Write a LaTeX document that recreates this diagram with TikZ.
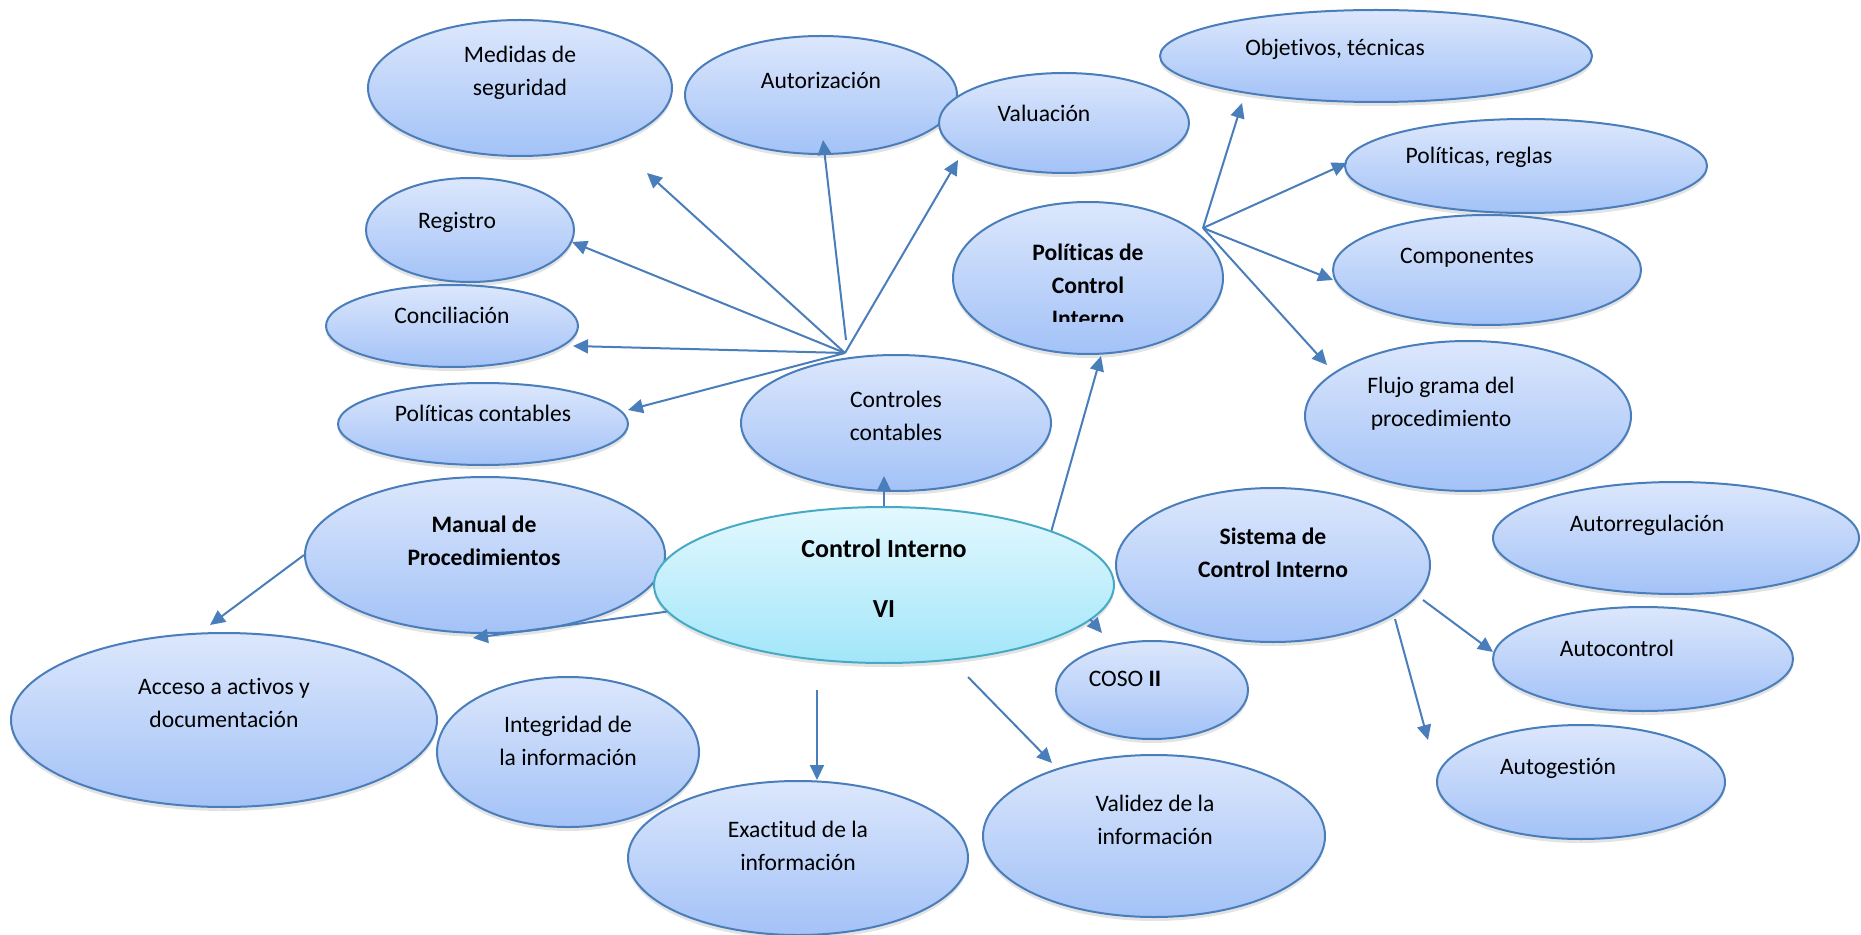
\documentclass[tikz,border=0pt]{standalone}
\usepackage{fontspec}
\setmainfont{Carlito}[Ligatures=NoCommon]
\usetikzlibrary{shapes.geometric, arrows.meta, shadows}
\definecolor{bubtop}{HTML}{DCE7FC}
\definecolor{bubbot}{HTML}{A3C2F7}
\definecolor{bubline}{HTML}{4A7EBB}
\definecolor{coretop}{HTML}{E3F8FE}
\definecolor{corebot}{HTML}{A2E6F9}
\definecolor{coreline}{HTML}{46AAC5}
\definecolor{arrowblue}{HTML}{4A7EBB}
\tikzstyle{bubble} = [ellipse, draw=bubline, line width=1pt, top color=bubtop, bottom color=bubbot, inner sep=0pt, drop shadow={opacity=0.22, shadow xshift=0pt, shadow yshift=-2pt}]
\tikzstyle{core} = [ellipse, draw=coreline, line width=1pt, top color=coretop, bottom color=corebot, inner sep=0pt, drop shadow={opacity=0.22, shadow xshift=0pt, shadow yshift=-2pt}]
\tikzstyle{bubtext} = [align=center, inner sep=0pt, font=\fontsize{11.8}{16.5}\selectfont]
\tikzstyle{bubhead} = [align=center, inner sep=0pt, font=\fontsize{11.8}{16.5}\selectfont\bfseries]
\tikzstyle{arrow} = [line width=1pt, draw=arrowblue, -{Triangle[length=7.5pt, width=7pt]}]

\begin{document}
\begin{tikzpicture}[x=0.5pt, y=-0.5pt]
 \useasboundingbox (0,0) rectangle (1861,935);

 % controles contables and its branches
 \node (medidas) [bubble, minimum width=152pt, minimum height=68pt] at (520,88) {};
 \node (autoriz) [bubble, minimum width=136pt, minimum height=59pt] at (821,95) {};
 \node (valua) [bubble, minimum width=125pt, minimum height=50pt] at (1064,123) {};
 \node (registro) [bubble, minimum width=104pt, minimum height=52pt] at (470,230) {};
 \node (concil) [bubble, minimum width=126pt, minimum height=41pt] at (452,326) {};
 \node (polcont) [bubble, minimum width=145pt, minimum height=41pt] at (483,424) {};
 \node (controles) [bubble, minimum width=155pt, minimum height=68pt] at (896,423) {};

 % politicas de control interno and its branches
 \node (polci) [bubble, minimum width=135pt, minimum height=76pt] at (1088,278) {};
 \node (objet) [bubble, minimum width=216pt, minimum height=46pt] at (1376,56) {};
 \node (polreg) [bubble, minimum width=181pt, minimum height=47pt] at (1526,166) {};
 \node (compon) [bubble, minimum width=154pt, minimum height=55pt] at (1487,270) {};
 \node (flujo) [bubble, minimum width=163pt, minimum height=75pt] at (1468,416) {};

 % sistema de control interno
 \node (autorreg) [bubble, minimum width=183pt, minimum height=56pt] at (1676,538) {};
 \node (sistema) [bubble, minimum width=157pt, minimum height=77pt] at (1273,565) {};
 \node (autocon) [bubble, minimum width=150pt, minimum height=52pt] at (1643,659) {};
 \node (autoges) [bubble, minimum width=144pt, minimum height=57pt] at (1581,782) {};

 % lower row
 \node (coso) [bubble, minimum width=96pt, minimum height=49pt] at (1152,690) {};
 \node (validez) [bubble, minimum width=171pt, minimum height=81pt] at (1154,836) {};
 \node (acceso) [bubble, minimum width=213pt, minimum height=87pt] at (224,720) {};
 \node (integ) [bubble, minimum width=131pt, minimum height=75pt] at (568,752) {};
 \node (exact) [bubble, minimum width=170pt, minimum height=77pt] at (798,858) {};
 \node (manual) [bubble, minimum width=180pt, minimum height=78pt] at (485,555) {};
 \node (central) [core, minimum width=230pt, minimum height=78pt] at (884,585) {};

 % texts
 \node (medidas-t) [bubtext] at (520,73) {Medidas de\\seguridad};
 \node (autoriz-t) [bubtext] at (821,80) {Autorización};
 \node (valua-t) [bubtext] at (1044,113) {Valuación};
 \node (registro-t) [bubtext] at (457,222) {Registro};
 \node (concil-t) [bubtext] at (452,315) {Conciliación};
 \node (polcont-t) [bubtext] at (483,413) {Políticas contables};
 \node (controles-t) [bubtext] at (896,416) {Controles\\contables};
 \node (objet-t) [bubtext] at (1335,49) {Objetivos, técnicas};
 \node (polreg-t) [bubtext] at (1479,157) {Políticas, reglas};
 \node (compon-t) [bubtext] at (1467,258) {Componentes};
 \node (flujo-t) [bubtext] at (1441,404) {Flujo grama del\\procedimiento};
 \node (autorreg-t) [bubtext] at (1647,525) {Autorregulación};
 \node (sistema-t) [bubhead] at (1273,553) {Sistema de\\Control Interno};
 \node (autocon-t) [bubtext] at (1617,648) {Autocontrol};
 \node (autoges-t) [bubtext] at (1558,768) {Autogestión};
 \node (coso-t) [bubtext] at (1125,679) {COSO \textbf{II}};
 \node (validez-t) [bubtext] at (1155,820) {Validez de la\\información};
 \node (acceso-t) [bubtext] at (224,703) {Acceso a activos y\\documentación};
 \node (integ-t) [bubtext] at (568,741) {Integridad de\\la información};
 \node (exact-t) [bubtext] at (798,846) {Exactitud de la\\información};
 \node (manual-t) [bubhead] at (484,541) {Manual de\\Procedimientos};
 \node (central-t) [bubtext, font=\fontsize{13}{16}\selectfont\bfseries] at (884,578) {Control Interno\\[14pt]VI};
 \begin{scope}
  \clip (950,195) rectangle (1230,322);
  \node (polci-t) [bubhead] at (1088,285) {Políticas de\\Control\\Interno};
 \end{scope}

 % free ends of the connectors
 \coordinate (cc-hub) at (845,353);
 \coordinate (cc-hub2) at (846,340);
 \coordinate (to-medidas) at (647,173);
 \coordinate (to-autoriz) at (823,140);
 \coordinate (to-valua) at (958,160);
 \coordinate (to-registro) at (572,242);
 \coordinate (to-concil) at (573,346);
 \coordinate (to-polcont) at (628,410);
 \coordinate (pc-hub) at (1203,228);
 \coordinate (to-objet) at (1242,103);
 \coordinate (to-polreg) at (1347,163);
 \coordinate (to-compon) at (1333,280);
 \coordinate (to-flujo) at (1327,365);
 \coordinate (to-controles) at (884,476);
 \coordinate (to-polci) at (1101,356);
 \coordinate (to-manual) at (473,638);
 \coordinate (to-acceso) at (210,625);
 \coordinate (ci-coso) at (1090,619);
 \coordinate (to-coso) at (1102,633);
 \coordinate (ci-exact) at (817,690);
 \coordinate (to-exact) at (817,780);
 \coordinate (ci-valid) at (968,677);
 \coordinate (to-validez) at (1052,763);
 \coordinate (si-auto) at (1423,600);
 \coordinate (to-autocon) at (1493,652);
 \coordinate (si-gest) at (1395,619);
 \coordinate (to-autoges) at (1428,740);

 % connectors
 \draw [arrow] (cc-hub) -- (to-medidas);
 \draw [arrow] (cc-hub2) -- (to-autoriz);
 \draw [arrow] (cc-hub) -- (to-valua);
 \draw [arrow] (cc-hub) -- (to-registro);
 \draw [arrow] (cc-hub) -- (to-concil);
 \draw [arrow] (cc-hub) -- (to-polcont);
 \draw [arrow] (pc-hub) -- (to-objet);
 \draw [arrow] (pc-hub) -- (to-polreg);
 \draw [arrow] (pc-hub) -- (to-compon);
 \draw [arrow] (pc-hub) -- (to-flujo);
 \draw [arrow] (central.north) -- (to-controles);
 \draw [arrow] (central.18) -- (to-polci);
 \draw [arrow] (central.187) -- (to-manual);
 \draw [arrow] (manual.west) -- (to-acceso);
 \draw [arrow] (ci-coso) -- (to-coso);
 \draw [arrow] (ci-exact) -- (to-exact);
 \draw [arrow] (ci-valid) -- (to-validez);
 \draw [arrow] (si-auto) -- (to-autocon);
 \draw [arrow] (si-gest) -- (to-autoges);
\end{tikzpicture}
\end{document}
